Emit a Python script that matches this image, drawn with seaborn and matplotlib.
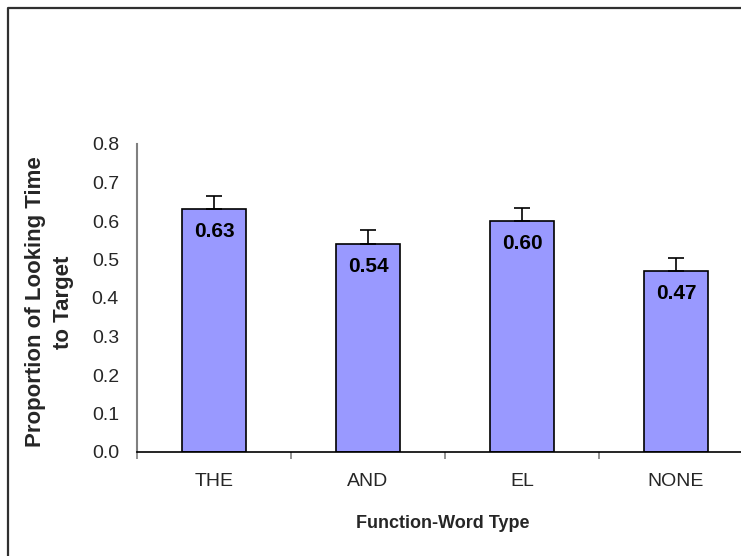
import matplotlib
matplotlib.use("Agg")
import matplotlib.pyplot as plt
from matplotlib.lines import Line2D
import seaborn as sns
import pandas as pd
import numpy as np

categories = ["THE", "AND", "EL", "NONE"]
means = [0.63, 0.54, 0.60, 0.47]
errors = [0.036, 0.037, 0.035, 0.035]
value_labels = ["0.63", "0.54", "0.60", "0.47"]
yticks = [0.0, 0.1, 0.2, 0.3, 0.4, 0.5, 0.6, 0.7, 0.8]

sns.set_theme(style="white")
plt.rcParams["font.family"] = ["Liberation Sans", "DejaVu Sans"]

W, H = 741, 556
fig = plt.figure(figsize=(W / 100, H / 100), dpi=100)
ax = fig.add_axes([137 / W, 1 - 452 / H, (753 - 137) / W, (452 - 144) / H])

df = pd.DataFrame({"type": categories, "prop": means})
sns.barplot(data=df, x="type", y="prop", order=categories, color="#9999FF",
            saturation=1, edgecolor="black", linewidth=1.2, width=0.41,
            errorbar=None, ax=ax)

xs = np.arange(len(categories))
ax.errorbar(xs, means, yerr=[np.zeros(len(errors)), errors], fmt="none",
            ecolor="black", elinewidth=1.2, capsize=5.8, capthick=1.2, zorder=3)

for x, m, lab in zip(xs, means, value_labels):
    ax.annotate(lab, (x, m), xytext=(0, -16), textcoords="offset points",
                ha="center", va="center", fontsize=15, fontweight="bold",
                color="black")

ax.set_xlim(-0.5, 3.5)
ax.set_ylim(0, 0.8)
ax.set_yticks(yticks)
ax.set_yticklabels([f"{v:.1f}" for v in yticks], fontsize=14)
ax.tick_params(axis="y", length=0, pad=13)

ax.set_xticks(xs)
ax.set_xticklabels(categories, fontsize=14)
ax.set_xticks([-0.5, 0.5, 1.5, 2.5, 3.5], minor=True)
ax.tick_params(axis="x", which="major", length=0, pad=15)
ax.tick_params(axis="x", which="minor", length=5, width=1.2, color="#808080",
               direction="out", bottom=True)

for s in ["top", "right"]:
    ax.spines[s].set_visible(False)
ax.spines["left"].set_color("#808080")
ax.spines["left"].set_linewidth(1.5)
ax.spines["bottom"].set_color("black")
ax.spines["bottom"].set_linewidth(1.2)

ax.set_xlabel("Function-Word Type", fontsize=13, fontweight="bold", va="center")
ax.xaxis.set_label_coords((443 - 137) / (753 - 137), -(523 - 452) / (452 - 144))
ax.set_ylabel("")

fig.text(36 / W, 1 - 302 / H, "Proportion of Looking Time", rotation=90,
         ha="center", va="center", fontsize=16, fontweight="bold")
fig.text(63 / W, 1 - 302 / H, "to Target", rotation=90,
         ha="center", va="center", fontsize=16, fontweight="bold")

fig.add_artist(Line2D([7.5 / W, 7.5 / W, 1.0], [0.0, 1 - 7.5 / H, 1 - 7.5 / H],
                      transform=fig.transFigure, color="#303030", lw=1.6))

fig.savefig("out.png", dpi=100)
